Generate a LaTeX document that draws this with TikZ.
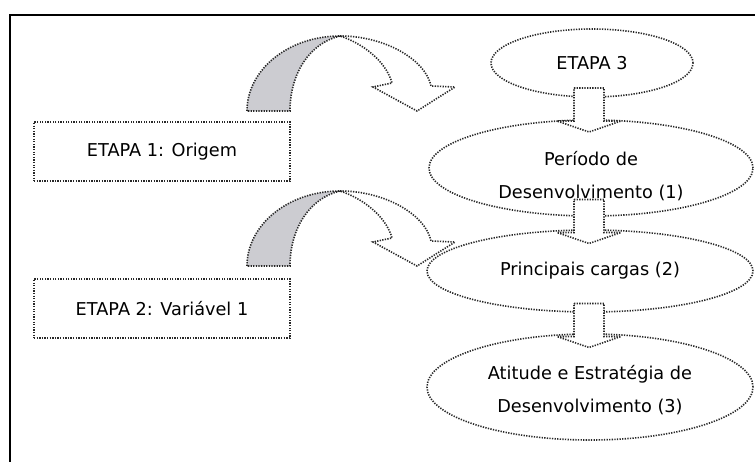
\documentclass[tikz,border=0pt]{standalone}
\usepackage{fontspec}
\setmainfont{DejaVu Sans}
\usetikzlibrary{shapes.geometric,calc}
\definecolor{bandgray}{RGB}{204,204,209}
\definecolor{dotline}{RGB}{40,40,40}

\tikzset{
  dotborder/.style={draw=dotline, line width=1.6pt, dash pattern=on 1.3pt off 1.3pt},
  stagebox/.style={dotborder, fill=white, rectangle, minimum width=256pt,
    minimum height=59pt, inner sep=0pt, font=\fontsize{17.7}{33}\selectfont},
  stageoval/.style={dotborder, fill=white, ellipse, inner sep=0pt, outer sep=0pt},
  ovaltext/.style={align=center, font=\fontsize{17.7}{33.5}\selectfont},
  frameline/.style={line width=1.6pt, black},
  % block arrow pointing down, origin at its middle
  downarrow/.pic={
    \draw[dotborder, fill=white] (-15,-22) -- (15,-22) -- (15,11) -- (32,11)
      -- (0,22) -- (-32,11) -- (-15,11) -- cycle;
  },
  % curved arrow: grey tail band on the left, white head on the right;
  % origin at the bottom centre of the arc
  curvedarrow/.pic={
    \draw[dotborder, fill=bandgray] (-93,0) .. controls (-93,-41.4) and (-51.4,-75) .. (0,-75)
      .. controls (-30,-68) and (-50,-38) .. (-50,0) -- cycle;
    \draw[dotborder, fill=white] (0,-75) .. controls (47,-75) and (86,-50) .. (91,-25)
      -- (115,-24) -- (77,0) -- (33,-24) -- (52,-28)
      .. controls (46,-50) and (22,-68) .. (0,-75) -- cycle;
  }
}

\begin{document}
\begin{tikzpicture}[x=1pt, y=-1pt]
  \useasboundingbox (0,0) rectangle (755,462);
  \fill[white] (0,0) rectangle (755,462);

  % frame
  \draw[frameline] (10,462) -- (10,15) -- (755,15);

  % stages on the left
  \node[stagebox] (s1) at (162,151.5) {ETAPA 1: Origem};
  \node[stagebox] (s2) at (162,308.5) {ETAPA 2: Variável 1};

  % stage 3 and its parts
  \node[stageoval, ovaltext, minimum width=202pt, minimum height=68pt] (e3) at (592,63) {ETAPA 3};
  \node[stageoval, minimum width=324pt, minimum height=96pt,
    label={[ovaltext, yshift=-8pt]center:Período de\\Desenvolvimento (1)}] (e1) at (591,168) {};
  \node[stageoval, ovaltext, minimum width=326pt, minimum height=82pt] (e2) at (590,271) {Principais cargas (2)};
  \node[stageoval, minimum width=326pt, minimum height=106pt,
    label={[ovaltext, yshift=-3pt]center:Atitude e Estratégia de\\Desenvolvimento (3)}] (e4) at (590,387) {};

  % curved arrows from the left stages
  \pic at (340,111) {curvedarrow};
  \pic at (340,266) {curvedarrow};

  % block arrows between the parts of stage 3
  \pic at ($(e3.south)!0.5!(e1.north)+(-2.5,1.5)$) {downarrow};
  \pic at ($(e1.south)!0.5!(e2.north)+(-1.5,-1.5)$) {downarrow};
  \pic at ($(e2.south)!0.5!(e4.north)+(-1,2.5)$) {downarrow};
\end{tikzpicture}
\end{document}
